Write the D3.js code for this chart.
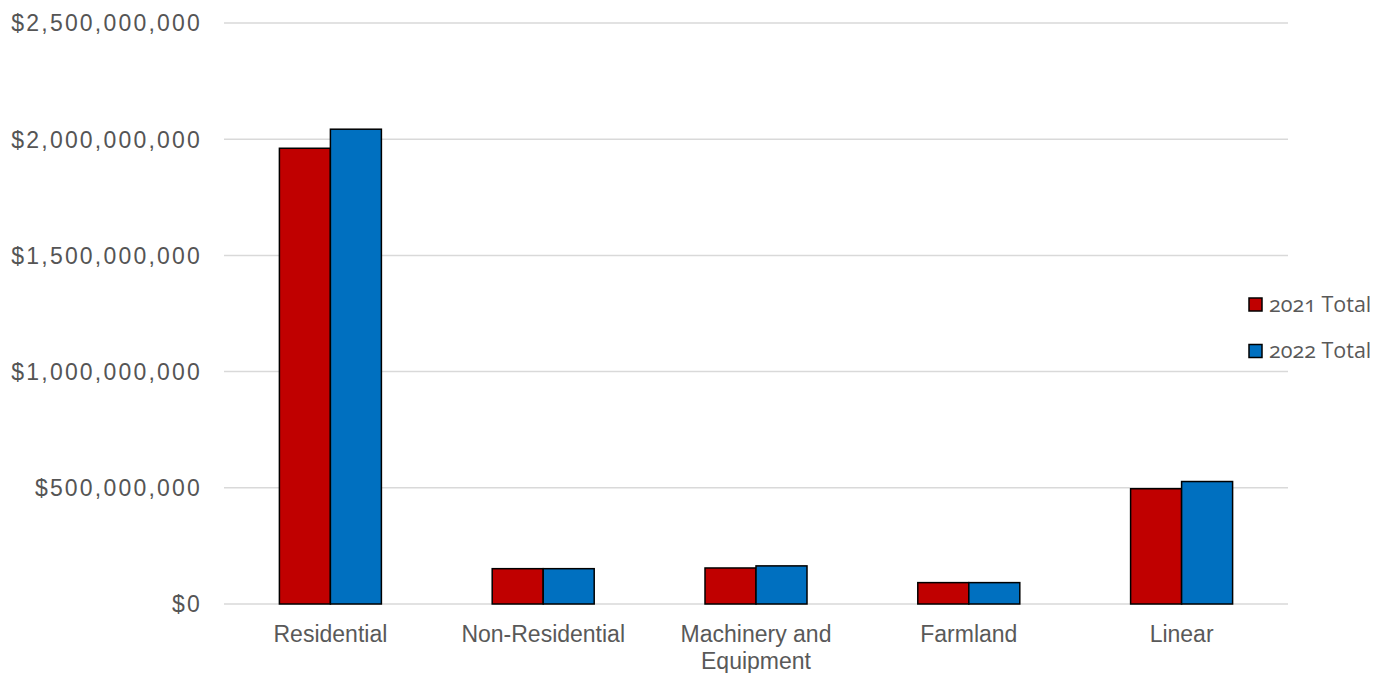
<!DOCTYPE html>
<html><head><meta charset="utf-8">
<script src="https://cdn.jsdelivr.net/npm/d3@7"></script>
<style>body{margin:0;background:#fff;} svg{display:block;}</style>
</head><body>
<svg id="chart" width="1386" height="673"></svg>
<script>
const categories = ["Residential", "Non-Residential", "Machinery and Equipment", "Farmland", "Linear"];
const categoryLines = [["Residential"], ["Non-Residential"], ["Machinery and", "Equipment"], ["Farmland"], ["Linear"]];
const seriesNames = ["2021 Total", "2022 Total"];
const values2021 = [1961000000, 152000000, 155000000, 92000000, 496000000];
const values2022 = [2043000000, 152000000, 164000000, 92000000, 527000000];
const yTicks = [0, 500000000, 1000000000, 1500000000, 2000000000, 2500000000];
const colors = ["#C00000", "#0070C0"];

(function(){
const svg = d3.select("#chart");
const mLeft = 224, mRight = 1288, mTop = 23, mBottom = 604;
const x = d3.scaleBand().domain(categories).range([mLeft, mRight]).paddingInner(0).paddingOuter(0);
const y = d3.scaleLinear().domain([0, 2500000000]).range([mBottom, mTop]);
const innerW = 102;
const x1 = d3.scaleBand().domain(seriesNames).range([0, innerW]);

svg.append("g").selectAll("line").data(yTicks).join("line")
  .attr("x1", mLeft).attr("x2", mRight)
  .attr("y1", d => y(d)).attr("y2", d => y(d))
  .attr("stroke", "#D9D9D9").attr("stroke-width", 1.5);

const fmt = d => "$" + d3.format(",")(d);
const yAxis = d3.axisLeft(y).tickValues(yTicks).tickFormat(fmt).tickSize(0).tickPadding(22);
const yg = svg.append("g").attr("transform", `translate(${mLeft},0)`).call(yAxis);
yg.select(".domain").remove();
yg.selectAll("text").attr("font-family", "Liberation Sans, Arial, sans-serif")
  .attr("font-size", 23).attr("fill", "#555555").attr("letter-spacing", "2.2px")
  .attr("dy", "0.34em");

const data = categories.map((c, i) => ({c, vals: [values2021[i], values2022[i]]}));
const groups = svg.append("g").selectAll("g").data(data).join("g")
  .attr("transform", d => `translate(${x(d.c) + x.bandwidth()/2 - innerW/2},0)`);
groups.selectAll("rect").data(d => d.vals.map((v, j) => ({v, s: seriesNames[j], j})))
  .join("rect")
  .attr("x", d => x1(d.s)).attr("width", x1.bandwidth())
  .attr("y", d => y(d.v)).attr("height", d => y(0) - y(d.v))
  .attr("fill", d => colors[d.j]).attr("stroke", "#000").attr("stroke-width", 1.5);

const xl = svg.append("g").selectAll("text").data(categories).join("text")
  .attr("x", d => x(d) + x.bandwidth()/2).attr("y", 641.5)
  .attr("text-anchor", "middle")
  .attr("font-family", "Liberation Sans, Arial, sans-serif").attr("font-size", 23)
  .attr("fill", "#595959");
xl.each(function(d, i) {
  d3.select(this).selectAll("tspan").data(categoryLines[i]).join("tspan")
    .attr("x", x(d) + x.bandwidth()/2).attr("dy", (t, k) => k === 0 ? 0 : 27).text(t => t);
});

const lg = svg.append("g").selectAll("g").data(seriesNames).join("g")
  .attr("transform", (d, i) => `translate(1249,${298 + i * 46.5})`);
lg.append("rect").attr("width", 13).attr("height", 13)
  .attr("fill", (d, i) => colors[i]).attr("stroke", "#000").attr("stroke-width", 1.5);
lg.append("text").attr("x", 20).attr("y", 13.5).text(d => d)
  .attr("font-family", "Open Sans, sans-serif").attr("font-size", 21.5).attr("fill", "#595959")
  .style("font-variant-numeric", "oldstyle-nums");
})();
</script>
</body></html>
